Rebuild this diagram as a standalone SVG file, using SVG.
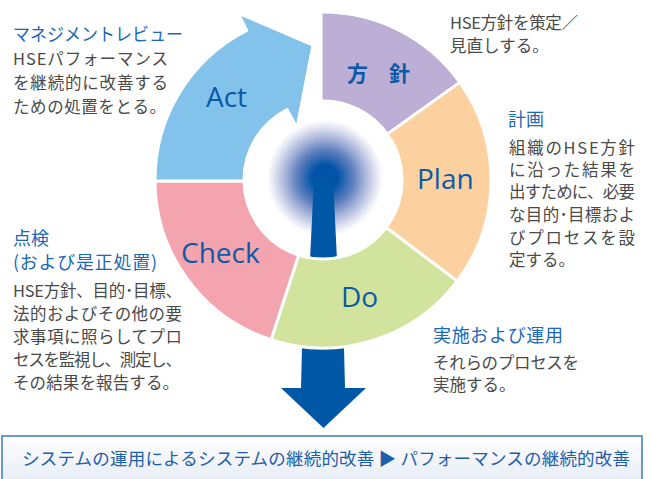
<svg xmlns="http://www.w3.org/2000/svg" width="651" height="479" viewBox="0 0 651 479">
<defs>
<radialGradient id="glow" cx="325" cy="178" r="58" gradientUnits="userSpaceOnUse">
<stop offset="0" stop-color="#0053a6" stop-opacity="1"/>
<stop offset="0.22" stop-color="#0053a6" stop-opacity="1"/>
<stop offset="0.5" stop-color="#2d58aa" stop-opacity="0.75"/>
<stop offset="0.78" stop-color="#5469b4" stop-opacity="0.35"/>
<stop offset="1" stop-color="#7a86c4" stop-opacity="0"/>
</radialGradient>
<linearGradient id="boxfill" x1="0" y1="0" x2="0" y2="1">
<stop offset="0" stop-color="#ffffff"/>
<stop offset="1" stop-color="#dfe6f2"/>
</linearGradient>
</defs>
<style>
.seg{stroke:#ffffff;stroke-width:3;stroke-linejoin:round}
.lbl{font-family:"Open Sans","Noto Sans",sans-serif;font-size:28px;font-weight:500;fill:#0a5aa8}
.ttl{font-family:"Noto Sans CJK JP","Noto Sans",sans-serif;font-size:18px;fill:#1a68b6}
.txt{font-family:"Noto Sans CJK JP","Noto Sans",sans-serif;font-size:16.5px;fill:#4a4a4a}
.bar{font-family:"Noto Sans CJK JP","Noto Sans",sans-serif;font-size:17.5px;fill:#1d5fab}
</style>
<rect width="651" height="479" fill="#ffffff"/>

<g id="center">
<circle cx="325" cy="178" r="58" fill="url(#glow)"/>
</g>

<g id="connectors">
<polygon points="314,178 310,260 302,348 301,388 281,388 323.5,428 366,388 345,388 344,348 337,260 333,178" fill="#0057a6"/>
</g>

<g id="node-policy">
<path class="seg" d="M 321 12 A 168 168 0 0 1 459.8 82.4 L 387.3 134.1 A 79 79 0 0 0 321 101 Z" fill="#bcaed5"/>
<text x="347" y="80.5" font-family="'Noto Sans CJK JP',sans-serif" font-size="21" font-weight="bold" fill="#0a5aa8">方　針</text>
</g>

<g id="node-plan">
<path class="seg" d="M 459.8 82.4 A 168 168 0 0 1 457.2 281.1 L 386.1 227.5 A 79 79 0 0 0 387.3 134.1 Z" fill="#fdd19f"/>
<text class="lbl" x="417" y="189">Plan</text>
</g>

<g id="node-do">
<path class="seg" d="M 457.2 281.1 A 168 168 0 0 1 271.1 339.8 L 298.6 255.1 A 79 79 0 0 0 386.1 227.5 Z" fill="#d2e39d"/>
<text class="lbl" x="341" y="307">Do</text>
</g>

<g id="node-check">
<path class="seg" d="M 271.1 339.8 A 168 168 0 0 1 155 181 L 244 181 A 79 79 0 0 0 298.6 255.1 Z" fill="#f4a4af"/>
<text class="lbl" x="181" y="263">Check</text>
</g>

<g id="node-act">
<path class="seg" d="M 155 181 A 168 168 0 0 1 246.7 30.3 L 238 13 L 313 45 L 297 128 L 287.1 109.6 A 79 79 0 0 0 244 181 Z" fill="#83c2ea"/>
<text class="lbl" x="206" y="107">Act</text>
</g>

<g id="text-act">
<text class="ttl" x="13" y="41" textLength="170" lengthAdjust="spacingAndGlyphs">マネジメントレビュー</text>
<text class="txt" x="13" y="65" textLength="155">HSEパフォーマンス</text>
<text class="txt" x="13" y="89" textLength="155">を継続的に改善する</text>
<text class="txt" x="13" y="113" textLength="153">ための処置をとる。</text>
</g>

<g id="text-policy">
<text class="txt" x="450" y="29" textLength="128">HSE方針を策定／</text>
<text class="txt" x="450" y="52">見直しする。</text>
</g>

<g id="text-plan">
<text class="ttl" x="508" y="126">計画</text>
<text class="txt" x="509" y="154" textLength="126">組織のHSE方針</text>
<text class="txt" x="509" y="176" textLength="126">に沿った結果を</text>
<text class="txt" x="509" y="198" textLength="126">出すために、必要</text>
<text class="txt" x="509" y="221" textLength="126">な目的･目標およ</text>
<text class="txt" x="509" y="244" textLength="126">びプロセスを設</text>
<text class="txt" x="509" y="266">定する。</text>
</g>

<g id="text-check">
<text class="ttl" x="13" y="245" font-size="17.5" textLength="36">点検</text>
<text class="ttl" x="13" y="269" font-size="17.5" textLength="144">(および是正処置)</text>
<text class="txt" x="13" y="297" textLength="169">HSE方針、目的･目標、</text>
<text class="txt" x="13" y="320" textLength="169">法的およびその他の要</text>
<text class="txt" x="13" y="343" textLength="169">求事項に照らしてプロ</text>
<text class="txt" x="13" y="366" textLength="169">セスを監視し、測定し、</text>
<text class="txt" x="13" y="389" textLength="166">その結果を報告する。</text>
</g>

<g id="text-do">
<text class="ttl" x="433" y="342" textLength="130">実施および運用</text>
<text class="txt" x="433" y="369" textLength="146">それらのプロセスを</text>
<text class="txt" x="433" y="391">実施する。</text>
</g>

<g id="result-box">
<rect x="2" y="436" width="640" height="60" fill="url(#boxfill)" stroke="#3f79bd" stroke-width="1.5"/>
<text class="bar" x="22" y="465" textLength="608">システムの運用によるシステムの継続的改善 ▶ パフォーマンスの継続的改善</text>
</g>
</svg>
